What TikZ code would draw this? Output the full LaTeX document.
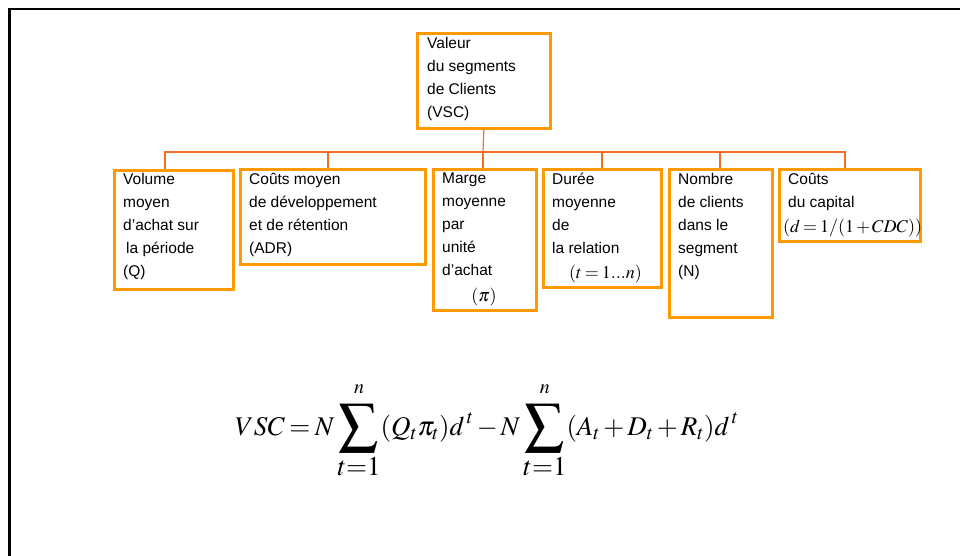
\documentclass[tikz,border=0pt]{standalone}
\usepackage{mathptmx}
\usepackage{graphicx}
\usepackage[no-math]{fontspec}
\setmainfont{Liberation Sans}
\definecolor{boxorange}{RGB}{255,153,0}
\definecolor{linkorange}{RGB}{240,110,40}
\newcommand{\BigSig}{\mathop{\vcenter{\hbox{\scalebox{1.45}{$\displaystyle\sum$}}}}}
\newcommand{\UpLim}{\raisebox{5pt}{$\scriptstyle n$}}
\tikzset{
  vbox/.style={draw=boxorange, line width=2.6pt, inner sep=0pt, anchor=north west},
  vtxt/.style={anchor=north west, inner sep=0pt, align=left, font=\fontsize{15.5}{23}\selectfont},
  vmath/.style={inner sep=0pt, font=\fontsize{18}{20}\selectfont},
  link/.style={draw=linkorange, line width=1.2pt},
  frame/.style={draw=black, line width=2.6pt}
}
\begin{document}
\begin{tikzpicture}[x=1pt,y=-1pt]
\thickmuskip=3mu \medmuskip=2mu
\useasboundingbox (0,0) rectangle (960,555);
\draw[frame] (9.5,556) -- (9.5,9) -- (961,9);
% boxes
\node[vbox, minimum width=133pt, minimum height=95pt] (top) at (416,32) {};
\node[vbox, minimum width=119pt, minimum height=119pt] (b1) at (113,169) {};
\node[vbox, minimum width=185pt, minimum height=95pt] (b2) at (239,168) {};
\node[vbox, minimum width=103pt, minimum height=141pt] (b3) at (432,168) {};
\node[vbox, minimum width=118pt, minimum height=118pt] (b4) at (542,168) {};
\node[vbox, minimum width=103pt, minimum height=148pt] (b5) at (668,168) {};
\node[vbox, minimum width=141pt, minimum height=72pt] (b6) at (778,168) {};
% connectors
\coordinate (bus) at (483,152);
\draw[link] (top.south) -- (bus);
\draw[link] (bus) -| (165,169);
\draw[link] (bus) -| (328,168);
\draw[link] (bus) -- (483,168);
\draw[link] (bus) -| (602,168);
\draw[link] (bus) -| (720,168);
\draw[link] (bus) -| (845,168);
% texts
\node[vtxt] (ttop) at (427,37) {Valeur\\du segments\\de Clients\\(VSC)};
\node[vtxt] (t1) at (123,173) {Volume\\moyen\\d’achat sur\\\hspace{3pt}la période\\(Q)};
\node[vtxt] (t2) at (249,173) {Coûts moyen\\de développement\\et de rétention\\(ADR)};
\node[vtxt] (t3) at (442,173) {Marge\\moyenne\\par\\unité\\d’achat};
\node[vmath] (pi3) at (484,297) {$(\pi)$};
\node[vtxt] (t4) at (552,173) {Durée\\moyenne\\de\\la relation};
\node[vmath, anchor=west] (m4) at (569,274) {$(t=1...n)$};
\node[vtxt] (t5) at (678,173) {Nombre\\de clients\\dans le\\segment\\(N)};
\node[vtxt] (t6) at (788,173) {Coûts\\du capital};
\node[vmath, anchor=west] (m6) at (783,228) {$(d=1/(1+CDC))$};
% formula
\node[inner sep=0pt, anchor=base, font=\fontsize{27}{30}\selectfont] (formula) at (487,435)
  {$\displaystyle VSC=N\BigSig\limits_{\textstyle t{=}1}^{\UpLim}(Q_t\pi_t)d^{\,t}-N\BigSig\limits_{\textstyle t{=}1}^{\UpLim}(A_t+D_t+R_t)d^{\,t}$};
\end{tikzpicture}
\end{document}
